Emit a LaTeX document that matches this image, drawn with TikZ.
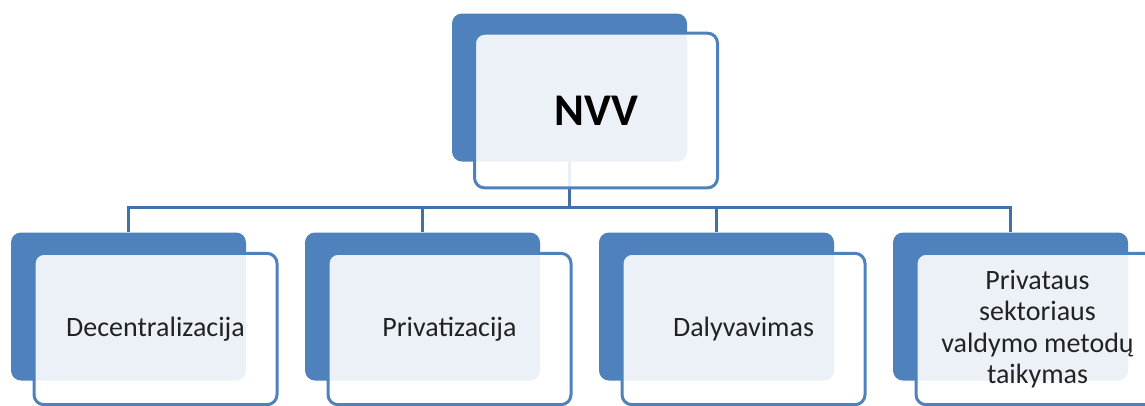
\documentclass[tikz,border=0pt]{standalone}
\usepackage{fontspec}
\setmainfont{Carlito}
\tikzset{every picture/.style={line width=0.75pt}}
\tikzset{
  backbox/.style={fill={rgb, 255:red, 79; green, 129; blue, 189 }, fill opacity=1, rounded corners=7.5pt, inner sep=0pt, minimum width=176.25pt, minimum height=111pt},
  frontbox/.style={draw={rgb, 255:red, 79; green, 129; blue, 189 }, line width=2.25pt, fill=white, fill opacity=0.89, text opacity=1, rounded corners=7.5pt, inner sep=0pt, minimum width=182.25pt, minimum height=113.5pt, align=center, text={rgb, 255:red, 34; green, 34; blue, 34 }, font=\fontsize{21}{23.5}\selectfont},
  topfront/.style={frontbox, minimum height=116pt, text=black, font=\bfseries\fontsize{34}{40}\selectfont},
  busline/.style={draw={rgb, 255:red, 65; green, 113; blue, 167 }, line width=2.25pt}
}
\begin{document}
\begin{tikzpicture}[x=0.75pt,y=0.75pt,yscale=-1,xscale=1]
\useasboundingbox (0,0) rectangle (1145,405);

%Shape: Rectangle [back boxes]
\draw (569.5,87.5) node [backbox] (nvvback) {};
\draw (128.5,306.5) node [backbox] (decback) {};
\draw (422.5,306.5) node [backbox] (privback) {};
\draw (716.5,306.5) node [backbox] (dalback) {};
\draw (1010.5,306.5) node [backbox] (sektback) {};

%Straight Lines [connectors]
\coordinate (bus) at (0,207);
\draw [busline] (nvvback.south) -- (nvvback.south |- bus) -| (decback.north);
\draw [busline] (nvvback.south |- bus) -| (privback.north);
\draw [busline] (nvvback.south |- bus) -| (dalback.north);
\draw [busline] (nvvback.south |- bus) -| (sektback.north);

%Shape: Rectangle [front boxes]
\draw (596,110.5) node [topfront] (nvv) {NVV};
\draw (155.5,329) node [frontbox] (dec) {Decentralizacija};
\draw (449.5,329) node [frontbox] (priv) {Privatizacija};
\draw (743.5,329) node [frontbox] (dal) {Dalyvavimas};
\draw (1037.5,329) node [frontbox] (sekt) {Privataus\\sektoriaus\\valdymo metodų\\taikymas};

\end{tikzpicture}
\end{document}
